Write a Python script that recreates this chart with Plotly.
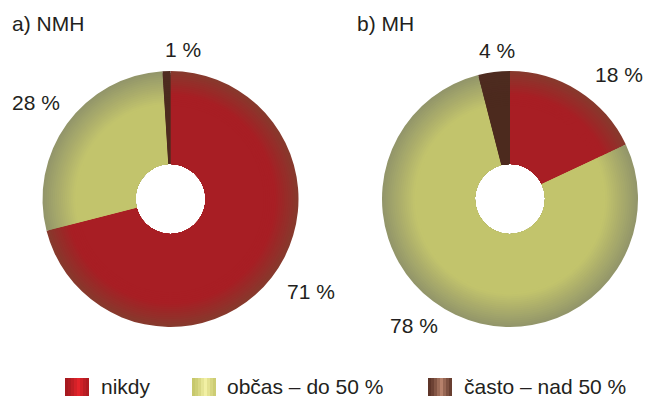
import plotly.graph_objects as go

# ---- data -------------------------------------------------------------
categories = ["nikdy", "občas – do 50 %", "často – nad 50 %"]
nmh_values = [71, 28, 1]
mh_values = [18, 78, 4]
panel_titles = ["a) NMH", "b) MH"]

# ---- styling ----------------------------------------------------------
W, H = 645, 398
FONT = "Liberation Sans, Arial, Helvetica, sans-serif"
TEXT_COLOR = "#231F20"
FS = 21

core_colors = ["#A81E24", "#C2C46C", "#4C2A1E"]   # slice colour near the hole
edge_colors = ["#87392D", "#93966A", "#4E2B20"]   # slice colour at the rim
core_ratio = [0.82, 0.75, 0.80]                   # where the rim shading ends
swatch_edge = ["#A3191F", "#C5C66A", "#5A3226"]
swatch_mid = ["#E6242B", "#F4F1A6", "#B9846D"]

# donut geometry (pixels, top-left origin)
centers = [(170.5, 199.0), (510.0, 199.0)]
outer_r = 128.0
hole_r = 35.0
n_layers = 18

title_pos = [(47.8, 23.5), (385.5, 23.5)]
value_label_pos = [
    [(311.0, 291.5), (35.5, 102.0), (183.3, 50.0)],
    [(619.0, 74.0), (414.0, 325.5), (496.5, 51.0)],
]

legend_swatch_x = [65, 192, 428]
legend_text_x = [99, 225, 462]
legend_y = (378, 396)
legend_text_y = 386.5


def hex_to_rgb(h):
    h = h.lstrip("#")
    return tuple(int(h[i:i + 2], 16) for i in (0, 2, 4))


def mix(c1, c2, t):
    a, b = hex_to_rgb(c1), hex_to_rgb(c2)
    return "rgb({},{},{})".format(*[round(a[i] + (b[i] - a[i]) * t) for i in range(3)])


def px_x(x):
    return x / W


def px_y(y):
    return 1 - y / H


fig = go.Figure()

# each donut is built from stacked rings that shrink towards the centre,
# giving the darker shaded rim
min_ratio = min(core_ratio) - 0.02
for (cx, cy), values in zip(centers, [nmh_values, mh_values]):
    for k in range(n_layers):
        frac = k / (n_layers - 1)
        r = outer_r * (1 - (1 - min_ratio) * frac)
        colors = []
        for i in range(len(categories)):
            t = (outer_r - r) / (outer_r * (1 - core_ratio[i]))
            t = max(0.0, min(1.0, t))
            colors.append(mix(edge_colors[i], core_colors[i], t))
        fig.add_trace(go.Pie(
            labels=categories,
            values=values,
            sort=False,
            direction="clockwise",
            rotation=0,
            hole=hole_r / r,
            textinfo="none",
            hoverinfo="label+percent",
            marker=dict(colors=colors, line=dict(width=0)),
            domain=dict(x=[px_x(cx - r), px_x(cx + r)],
                        y=[px_y(cy + r), px_y(cy - r)]),
            showlegend=False,
        ))

annotations = []
for (tx, ty), title in zip(title_pos, panel_titles):
    annotations.append(dict(x=px_x(tx), y=px_y(ty), text=title))

for positions, values in zip(value_label_pos, [nmh_values, mh_values]):
    for (lx, ly), v in zip(positions, values):
        annotations.append(dict(x=px_x(lx), y=px_y(ly), text=f"{v} %"))

for a in annotations:
    a.update(xref="paper", yref="paper", showarrow=False,
             xanchor="center", yanchor="middle",
             font=dict(family=FONT, size=FS, color=TEXT_COLOR))

# legend: striped swatches followed by the category names
shapes = []
n_stripes = 8
sw_w = 24
for i, name in enumerate(categories):
    x0 = legend_swatch_x[i]
    for s in range(n_stripes):
        pos = (s + 0.5) / n_stripes
        t = 1 - abs(pos - 0.55) / 0.55
        t = max(0.0, min(1.0, t)) ** 1.5
        shapes.append(dict(
            type="rect", xref="paper", yref="paper", layer="above",
            x0=px_x(x0 + s * sw_w / n_stripes),
            x1=px_x(x0 + (s + 1) * sw_w / n_stripes),
            y0=px_y(legend_y[1]), y1=px_y(legend_y[0]),
            fillcolor=mix(swatch_edge[i], swatch_mid[i], t),
            line=dict(width=0),
        ))
    annotations.append(dict(
        x=px_x(legend_text_x[i]), y=px_y(legend_text_y), text=name,
        xref="paper", yref="paper", showarrow=False,
        xanchor="left", yanchor="middle",
        font=dict(family=FONT, size=FS, color=TEXT_COLOR),
    ))

fig.update_layout(
    width=W, height=H,
    margin=dict(l=0, r=0, t=0, b=0),
    paper_bgcolor="white",
    plot_bgcolor="white",
    showlegend=False,
    annotations=annotations,
    shapes=shapes,
)

fig.write_html("out.html")
